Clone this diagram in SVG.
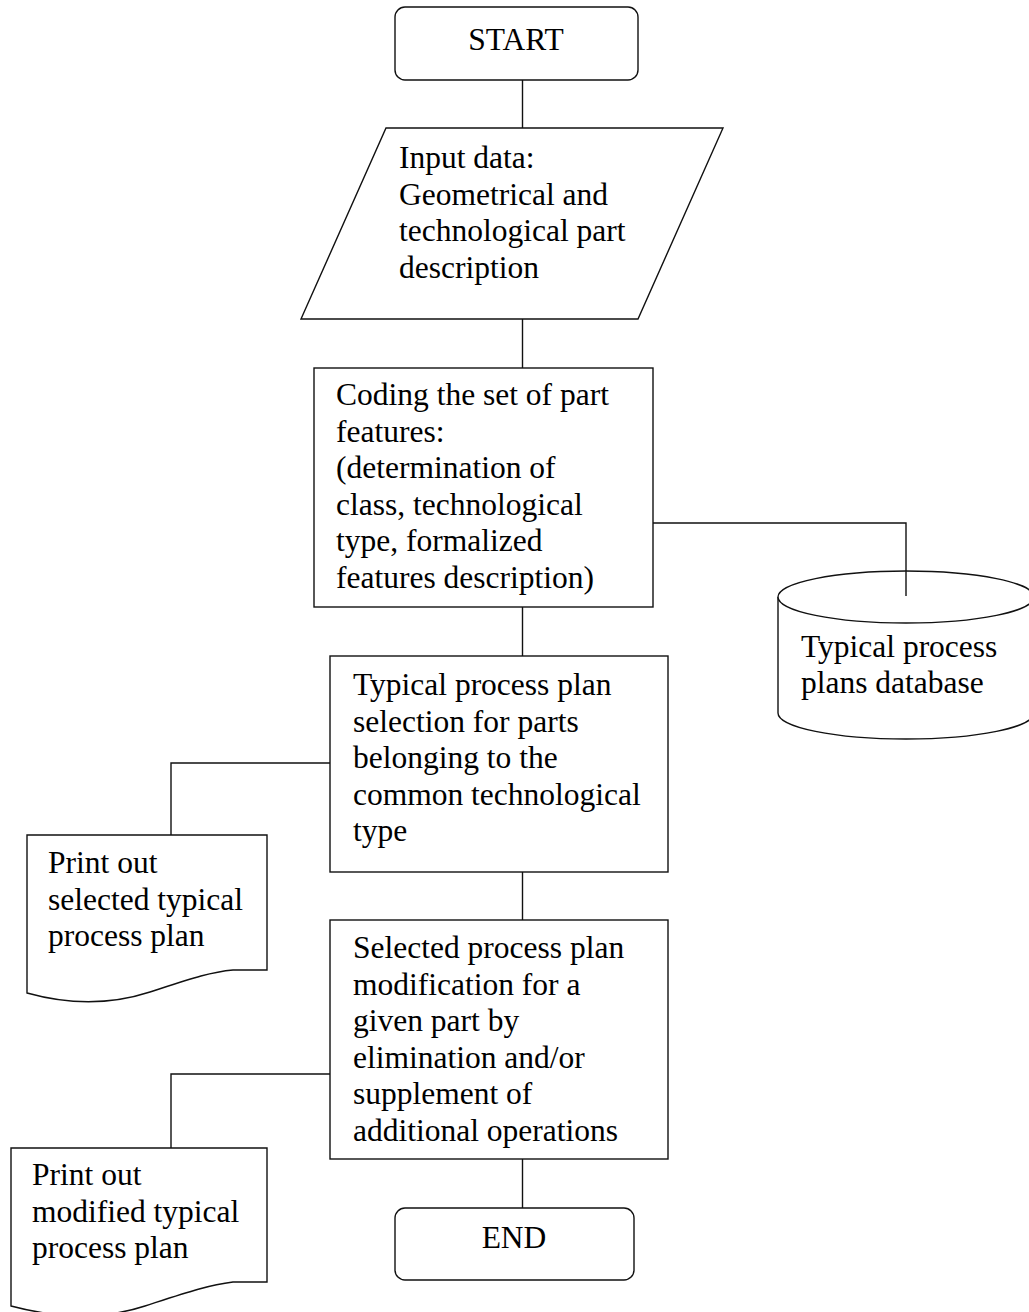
<svg xmlns="http://www.w3.org/2000/svg" width="1029" height="1312" viewBox="0 0 1029 1312">
<style>
.s{fill:#fff;stroke:#111;stroke-width:1.4}
.c{fill:none;stroke:#111;stroke-width:1.4}
text{font-family:"Liberation Serif","Times New Roman",serif;font-size:31.5px;fill:#000}
.m{text-anchor:middle}
</style>
<rect width="1029" height="1312" fill="#fff"/>
<g id="connectors">
<line class="c" x1="522.5" y1="80" x2="522.5" y2="128"/>
<line class="c" x1="522.5" y1="319" x2="522.5" y2="368"/>
<line class="c" x1="522.5" y1="607" x2="522.5" y2="656"/>
<line class="c" x1="522.5" y1="872" x2="522.5" y2="920"/>
<line class="c" x1="522.5" y1="1159" x2="522.5" y2="1208"/>
<polyline class="c" points="330,763 171,763 171,835"/>
<polyline class="c" points="330,1074 171,1074 171,1148"/>
</g>
<g id="database">
<path class="s" d="M778,597 L778,713 A128,26 0 0 0 1034,713 L1034,597"/>
<ellipse class="s" cx="906" cy="597" rx="128" ry="26"/>
<text x="801" y="657">Typical process</text>
<text x="801" y="693">plans database</text>
</g>
<g id="connector-db">
<polyline class="c" points="653,523 906,523 906,596"/>
</g>
<g id="start">
<rect class="s" x="395" y="7" width="243" height="73" rx="10"/>
<text class="m" x="516" y="50">START</text>
</g>
<g id="input">
<polygon class="s" points="386,128 723,128 638,319 301,319"/>
<text x="399" y="168">Input data:</text>
<text x="399" y="204.6">Geometrical and</text>
<text x="399" y="241.2">technological part</text>
<text x="399" y="277.8">description</text>
</g>
<g id="coding">
<rect class="s" x="314" y="368" width="339" height="239"/>
<text x="336" y="405">Coding the set of part</text>
<text x="336" y="441.6">features:</text>
<text x="336" y="478.2">(determination of</text>
<text x="336" y="514.8">class, technological</text>
<text x="336" y="551.4">type, formalized</text>
<text x="336" y="588">features description)</text>
</g>
<g id="selection">
<rect class="s" x="330" y="656" width="338" height="216"/>
<text x="353" y="695">Typical process plan</text>
<text x="353" y="731.6">selection for parts</text>
<text x="353" y="768.2">belonging to the</text>
<text x="353" y="804.8">common technological</text>
<text x="353" y="841.4">type</text>
</g>
<g id="modification">
<rect class="s" x="330" y="920" width="338" height="239"/>
<text x="353" y="958">Selected process plan</text>
<text x="353" y="994.5">modification for a</text>
<text x="353" y="1031">given part by</text>
<text x="353" y="1067.5">elimination and/or</text>
<text x="353" y="1104">supplement of</text>
<text x="353" y="1140.5">additional operations</text>
</g>
<g id="end">
<rect class="s" x="395" y="1208" width="239" height="72" rx="10"/>
<text class="m" x="514" y="1248">END</text>
</g>
<g id="print1">
<path class="s" d="M27,835 L267,835 L267,970 L233,970 C210,972 190,979 150,992 C110,1005 70,1005 27,993 Z"/>
<text x="48" y="873">Print out</text>
<text x="48" y="909.6">selected typical</text>
<text x="48" y="946.2">process plan</text>
</g>
<g id="print2">
<path class="s" d="M11,1148 L267,1148 L267,1282 L233,1282 C208,1285 185,1293 145,1306 C105,1319 60,1319 11,1306 Z"/>
<text x="32" y="1185">Print out</text>
<text x="32" y="1221.6">modified typical</text>
<text x="32" y="1258.2">process plan</text>
</g>
</svg>
